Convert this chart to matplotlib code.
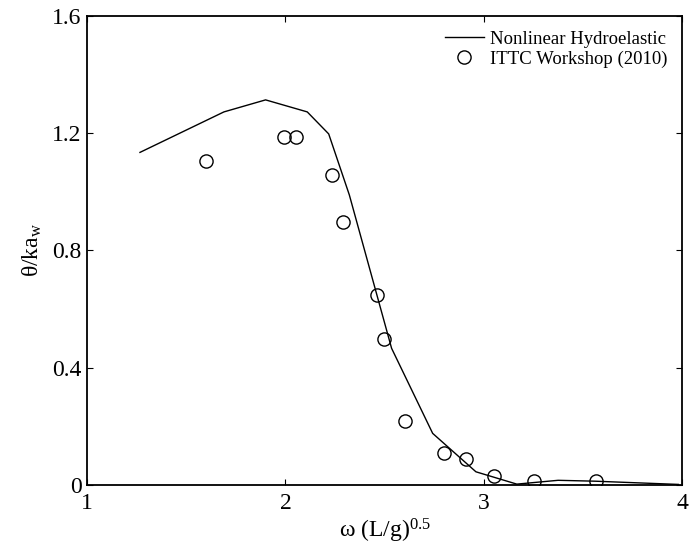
import numpy as np
import matplotlib
matplotlib.use("Agg")
import matplotlib.pyplot as plt

plt.rcParams['font.family'] = ['Liberation Serif', 'DejaVu Serif']
plt.rcParams['mathtext.fontset'] = 'custom'
plt.rcParams['mathtext.rm'] = 'Liberation Serif'
plt.rcParams['mathtext.it'] = 'Liberation Serif:italic'

# Nonlinear hydroelastic result (line)
x_model = [1.267, 1.69, 1.90, 2.11, 2.218, 2.322, 2.535, 2.742, 2.96, 3.166, 3.374, 3.56, 3.98]
y_model = [1.134, 1.272, 1.313, 1.272, 1.197, 0.989, 0.466, 0.176, 0.045, 0.003, 0.016, 0.013, 0.002]

# ITTC Workshop (2010) measurements (circles)
x_ittc = [1.598, 1.995, 2.055, 2.235, 2.292, 2.462, 2.499, 2.604, 2.801, 2.908, 3.053, 3.251, 3.564]
y_ittc = [1.106, 1.185, 1.185, 1.056, 0.896, 0.648, 0.498, 0.217, 0.110, 0.090, 0.029, 0.012, 0.015]

xticks = [1, 2, 3, 4]
yticks = [0, 0.4, 0.8, 1.2, 1.6]
ytick_labels = ['0', '0.4', '0.8', '1.2', '1.6']

fig = plt.figure(figsize=(6.89, 5.53), dpi=100)
ax = fig.add_axes([87 / 689, 1 - 485 / 553, (682.3 - 87) / 689, (485 - 15.7) / 553])

ax.plot(x_model, y_model, color='black', lw=1.0, label='Nonlinear Hydroelastic')
ax.plot(x_ittc, y_ittc, 'o', mfc='none', mec='black', mew=1.0, ms=9.5,
        label='ITTC Workshop (2010)')

ax.set_xlim(1, 4)
ax.set_ylim(0, 1.6)
ax.set_xticks(xticks)
ax.set_yticks(yticks)
ax.set_yticklabels(ytick_labels)
ax.tick_params(direction='in', length=4, width=0.8, top=True, right=True,
               labelsize=17)
ax.tick_params(axis='x', pad=6)
ax.tick_params(axis='y', pad=4)
for s in ax.spines.values():
    s.set_linewidth(1.3)

ax.set_xlabel(r'ω (L/g)$^{\mathrm{0.5}}$', fontsize=17, labelpad=2)
ax.set_ylabel(r'θ/ka$_{\mathrm{w}}$', fontsize=17, labelpad=6)

ax.legend(loc='upper right', frameon=False, fontsize=13.5, handlelength=2.1,
          handletextpad=0.3, borderaxespad=0.4, labelspacing=0.15)

fig.savefig('out.png', dpi=100)
